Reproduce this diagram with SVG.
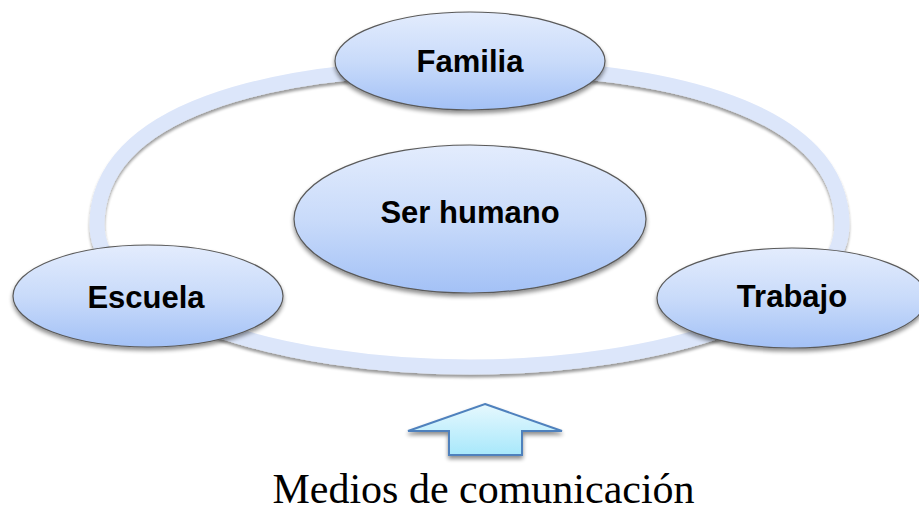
<svg xmlns="http://www.w3.org/2000/svg" width="919" height="513" viewBox="0 0 919 513">
  <defs>
    <linearGradient id="nodeFill" x1="0" y1="0" x2="0" y2="1">
      <stop offset="0" stop-color="#e3ecfd"/>
      <stop offset="0.5" stop-color="#c9dbfa"/>
      <stop offset="1" stop-color="#a3c1f6"/>
    </linearGradient>
    <linearGradient id="arrowFill" x1="0" y1="0" x2="0" y2="1">
      <stop offset="0" stop-color="#e6f8fe"/>
      <stop offset="1" stop-color="#a8e8fb"/>
    </linearGradient>
    <filter id="shadow" x="-20%" y="-20%" width="140%" height="150%">
      <feGaussianBlur in="SourceAlpha" stdDeviation="2"/>
      <feOffset dx="0" dy="3" result="b"/>
      <feComponentTransfer><feFuncA type="linear" slope="0.45"/></feComponentTransfer>
      <feMerge><feMergeNode/><feMergeNode in="SourceGraphic"/></feMerge>
    </filter>
    <filter id="ringShadow" x="-10%" y="-10%" width="120%" height="130%">
      <feGaussianBlur in="SourceAlpha" stdDeviation="1.8"/>
      <feOffset dx="0" dy="2.5" result="b"/>
      <feComponentTransfer><feFuncA type="linear" slope="0.4"/></feComponentTransfer>
      <feMerge><feMergeNode/><feMergeNode in="SourceGraphic"/></feMerge>
    </filter>
  </defs>
  <style>
    .node { fill: url(#nodeFill); stroke: #5a5a5a; stroke-width: 1.2; filter: url(#shadow); }
    .label { font-family: "Liberation Sans", Arial, sans-serif; font-weight: bold; font-size: 31px; fill: #000; text-anchor: middle; }
    .ring { fill: none; stroke: #dce6fa; stroke-width: 15; filter: url(#ringShadow); }
    .caption { font-family: "Liberation Serif", "Times New Roman", serif; font-size: 42px; fill: #000; text-anchor: middle; }
  </style>
  <rect width="919" height="513" fill="#ffffff"/>

  <g id="connectors">
    <path class="ring" d="M 97,225 C 97,110 270,67 470,67 C 670,67 842,110 842,225 C 842,310 660,367 470,367 C 280,367 97,310 97,225 Z"/>
  </g>

  <g id="node-familia">
    <ellipse class="node" cx="470" cy="61" rx="135" ry="49"/>
    <text class="label" x="470" y="72">Familia</text>
  </g>

  <g id="node-ser-humano">
    <ellipse class="node" cx="470" cy="219" rx="176" ry="74"/>
    <text class="label" x="470" y="223">Ser humano</text>
  </g>

  <g id="node-escuela">
    <ellipse class="node" cx="148" cy="296" rx="135" ry="51"/>
    <text class="label" x="146" y="308">Escuela</text>
  </g>

  <g id="node-trabajo">
    <ellipse class="node" cx="792" cy="298" rx="135" ry="50"/>
    <text class="label" x="792" y="307">Trabajo</text>
  </g>

  <g id="arrow">
    <polygon points="485,404 562,431 522,431 522,455 449,455 449,431 408,431" fill="url(#arrowFill)" stroke="#4f81bd" stroke-width="2" stroke-linejoin="miter" filter="url(#shadow)"/>
  </g>

  <g id="caption">
    <text class="caption" x="483.5" y="503">Medios de comunicación</text>
  </g>
</svg>
